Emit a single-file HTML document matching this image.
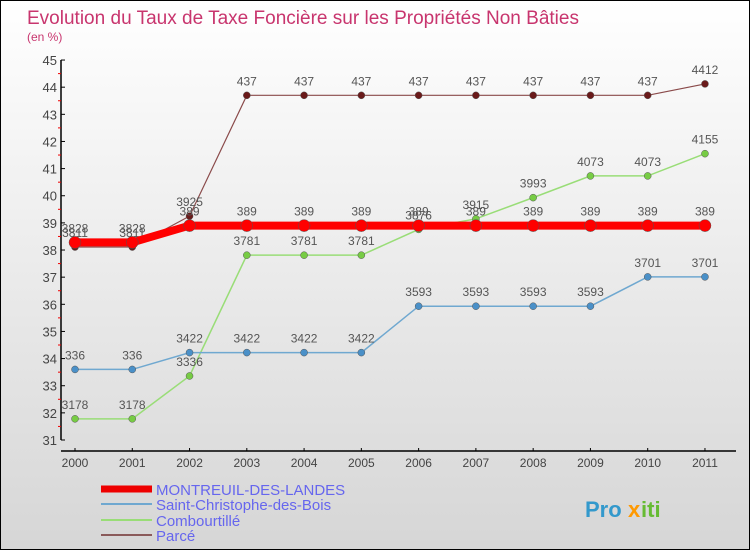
<!DOCTYPE html>
<html><head><meta charset="utf-8"><style>
body{margin:0}
#c{width:748px;height:548px;border:1px solid #000;background:linear-gradient(#ffffff,#d6d6d6);position:relative;font-family:"Liberation Sans",sans-serif;overflow:hidden}
</style></head><body>
<div id="c">
<svg id="s" width="748" height="548"></svg>
</div>
<script>
const years=[2000,2001,2002,2003,2004,2005,2006,2007,2008,2009,2010,2011];
const montreuil=[38.28,38.28,38.9,38.9,38.9,38.9,38.9,38.9,38.9,38.9,38.9,38.9];
const stchristophe=[33.6,33.6,34.22,34.22,34.22,34.22,35.93,35.93,35.93,35.93,37.01,37.01];
const combourtille=[31.78,31.78,33.36,37.81,37.81,37.81,38.76,39.15,39.93,40.73,40.73,41.55];
const parce=[38.11,38.11,39.25,43.7,43.7,43.7,43.7,43.7,43.7,43.7,43.7,44.12];
const yTicks=[31,32,33,34,35,36,37,38,39,40,41,42,43,44,45];
const NS="http://www.w3.org/2000/svg";
const s=document.getElementById('s');
const X=i=>74+i*57.27, Y=v=>439-(v-31)*27.14;
function el(t,a,p){const e=document.createElementNS(NS,t);for(const k in a)e.setAttribute(k,a[k]);(p||s).appendChild(e);return e;}
function txt(x,y,str,a){const e=el('text',Object.assign({x:x,y:y},a));e.textContent=str;return e;}
const t1=txt(26,23,'Evolution du Taux de Taxe Foncière sur les Propriétés Non Bâties',{'font-size':19,fill:'#c8356e',textLength:552,lengthAdjust:'spacingAndGlyphs'});

const t2=txt(26,40,'(en %)',{'font-size':12,fill:'#c8356e'});

const ya=el('line',{x1:60,y1:Y(45),x2:60,y2:Y(31),stroke:'#000','stroke-width':1.5});

const xa=el('line',{x1:60,y1:450,x2:735,y2:450,stroke:'#000','stroke-width':1.5});

yTicks.forEach(v=>{
 el('line',{x1:60,y1:Y(v),x2:64,y2:Y(v),stroke:'#000'});
 if(v<45)el('line',{x1:57,y1:Y(v+0.5),x2:60,y2:Y(v+0.5),stroke:'#e00'});
 const t=txt(56,Y(v)+5,String(v),{'font-size':13,fill:'#444','text-anchor':'end'});
 
});
years.forEach((y,i)=>{
 el('line',{x1:X(i),y1:447,x2:X(i),y2:450,stroke:'#000'});
 const t=txt(X(i),466,String(y),{'font-size':12,fill:'#444','text-anchor':'middle'});
 
});
function series(vals,color,dot,w,r,name){
 const g=el('g',{});
 
 el('polyline',{points:vals.map((v,i)=>X(i)+','+Y(v)).join(' '),fill:'none',stroke:color,'stroke-width':w},g);
 vals.forEach((v,i)=>{
  const c=el('circle',{cx:X(i),cy:Y(v),r:r,fill:dot,stroke:'#555','stroke-width':0.5},g);
  
  const t=txt(X(i),Y(v)-10,String(v).replace('.',''),{'font-size':12,fill:'#555','text-anchor':'middle'},g);
  
 });
}
series(combourtille,'#99dd77','#77cc44',1.5,3.5,'combourtille');
series(stchristophe,'#6fa8d0','#4a90c8',1.5,3.5,'saint-christophe');
series(parce,'#8a4a4a','#6a1a1a',1.2,3.5,'parce');
series(montreuil,'#ff0000','#ff0000',8,6,'montreuil');
const leg=[['MONTREUIL-DES-LANDES','#ee0000',7,492],['Saint-Christophe-des-Bois','#6fa8d0',2,507],['Combourtillé','#99dd77',2,523],['Parcé','#8a5a5a',2,538]];
leg.forEach(l=>{
 const g=el('g',{});
 
 el('line',{x1:100,y1:l[3]-4,x2:151,y2:l[3]-4,stroke:l[1],'stroke-width':l[2]},g);
 txt(155,l[3]+2,l[0],{'font-size':15,fill:'#6666ee'},g);
});
const lg=el('g',{});

txt(584,516,'Pro',{'font-size':22,'font-weight':'bold',fill:'#3399cc'},lg);
txt(627,516,'x',{'font-size':22,'font-weight':'bold',fill:'#ff9900'},lg);
txt(640,516,'iti',{'font-size':22,'font-weight':'bold',fill:'#66bb33'},lg);
</script>
</body></html>
